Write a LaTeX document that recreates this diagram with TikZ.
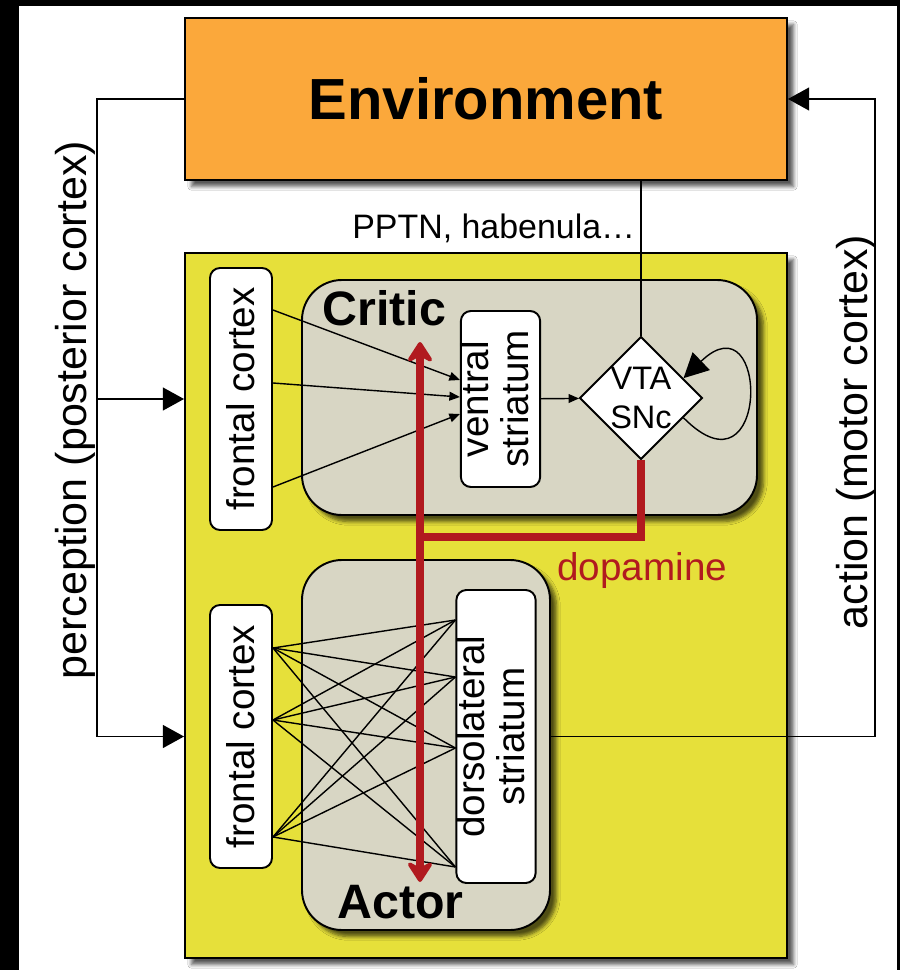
\documentclass[tikz,border=0pt]{standalone}
\usepackage{fontspec}
\setmainfont{Liberation Sans}
\usetikzlibrary{arrows.meta, shapes.geometric, shadows.blur}
\definecolor{envorange}{HTML}{FBA83B}
\definecolor{brainyellow}{HTML}{E6E03A}
\definecolor{areagray}{HTML}{D8D6C4}
\definecolor{dopared}{HTML}{B11A1F}

\begin{document}
\begin{tikzpicture}[x=0.2mm, y=-0.2mm,
  box/.style={draw, line width=1.1pt, inner sep=0pt},
  shadebox/.style={box, blur shadow={shadow xshift=1.3mm, shadow yshift=-1.3mm,
      shadow blur steps=6, shadow opacity=65}},
  area/.style={shadebox, rounded corners=8mm, fill=areagray},
  region/.style={box, rounded corners=2mm, fill=white,
      font=\fontsize{22}{22}\selectfont},
  thinlink/.style={line width=0.8pt},
  feed/.style={line width=0.8pt, -{Triangle[length=12pt, width=13pt]}},
  dopa/.style={draw=dopared, line width=4pt},
  sidelabel/.style={rotate=90, font=\fontsize{24.5}{24.5}\selectfont},
  titlelabel/.style={anchor=base west, inner sep=0pt,
      font=\fontsize{27.5}{27.5}\selectfont\bfseries}]
\useasboundingbox (0,0) rectangle (900,970);
\fill[white] (0,0) rectangle (900,970);
% black frame edges
\fill[black] (0,0) rectangle (19,970);
\fill[black] (0,0) rectangle (900,6);
\fill[black] (897,0) rectangle (900,970);

% outer boxes
\node[shadebox, fill=envorange, minimum width=120.4mm, minimum height=32.4mm,
      font=\fontsize{33}{33}\selectfont\bfseries] (env) at (486,99) {Environment};
\node[shadebox, fill=brainyellow, minimum width=120.4mm, minimum height=141mm]
      (brain) at (486,605.5) {};
\node[area, minimum width=91mm, minimum height=47mm] (critic) at (529.5,397.5) {};
\node[area, minimum width=49.6mm, minimum height=74mm] (actor) at (426,745) {};
\node[titlelabel] (criticLabel) at (322,325) {Critic};
\node[titlelabel] (actorLabel) at (337,918) {Actor};

% regions
\node[region, minimum width=12.4mm, minimum height=52.4mm] (fcCritic) at (241,399)
      {\rotatebox{90}{frontal cortex}};
\node[region, minimum width=12.4mm, minimum height=52.6mm] (fcActor) at (241,736.5)
      {\rotatebox{90}{frontal cortex}};
\node[region, minimum width=15mm, minimum height=35.2mm] (vstr) at (500.5,399)
      {\rotatebox{90}{\begin{tabular}{@{}c@{}}ventral\\striatum\end{tabular}}};
\node[region, minimum width=14.4mm, minimum height=58.6mm] (dlstr) at (496,736.5)
      {\rotatebox{90}{\begin{tabular}{@{}c@{}}dorsolateral\\striatum\end{tabular}}};
\node[box, diamond, fill=white, minimum width=23.6mm, minimum height=23.6mm,
      align=center, font=\fontsize{18.5}{22}\selectfont] (vta) at (641,398) {VTA\\SNc};

% perception and action loops
\coordinate (pTop) at (97,99);
\coordinate (pBot) at (97,736.5);
\coordinate (aTop) at (875,99);
\draw[feed] (env.west) -| (pBot) -- (brain.west |- fcActor);
\draw[feed] (pTop |- fcCritic) -- (brain.west |- fcCritic);
\draw[feed] (actor.east |- dlstr) -| (aTop) -- (env.east);
\node[sidelabel] (perceptionLabel) at (75,410) {perception (posterior cortex)};
\node[sidelabel] (actionLabel) at (856,432) {action (motor cortex)};

% critic
\draw[thinlink] (vta |- env.south) -- (vta.north);
\node[anchor=base west, inner sep=0pt, font=\fontsize{19.3}{19.3}\selectfont]
      (pptnLabel) at (352,238) {PPTN, habenula…};
\foreach \ya/\yb in {310/380, 383/397, 487/414}
  \draw[thinlink, -{Triangle[length=6pt, width=5pt]}]
    (fcCritic.east |- 0,\ya) -- (vstr.west |- 0,\yb);
\draw[thinlink, -{Triangle[length=6pt, width=5pt]}] (vstr) -- (vta);
\draw[line width=0.8pt, -{Triangle[length=14pt, width=14pt]}]
  (vta.-25) .. controls (770,505) and (770,295) .. (vta.25);

% actor
\foreach \ya in {648,720,837}
  \foreach \yb in {620,677,748,867}
    \draw[thinlink] (fcActor.east |- 0,\ya) -- (dlstr.west |- 0,\yb);

% dopamine
\coordinate (daJoin) at (420,537);
\coordinate (daTop) at (420,342);
\coordinate (daBot) at (420,882);
\draw[dopa] (vta.south) |- (daJoin);
\draw[dopa, {Stealth[length=14pt, width=18pt, inset=5pt, round]}-{Stealth[length=14pt, width=18pt, inset=5pt, round]}]
  (daTop) -- (daBot);
\node[anchor=base west, inner sep=0pt, text=dopared, font=\fontsize{22}{22}\selectfont]
      (dopaLabel) at (557,580) {dopamine};
\end{tikzpicture}
\end{document}
